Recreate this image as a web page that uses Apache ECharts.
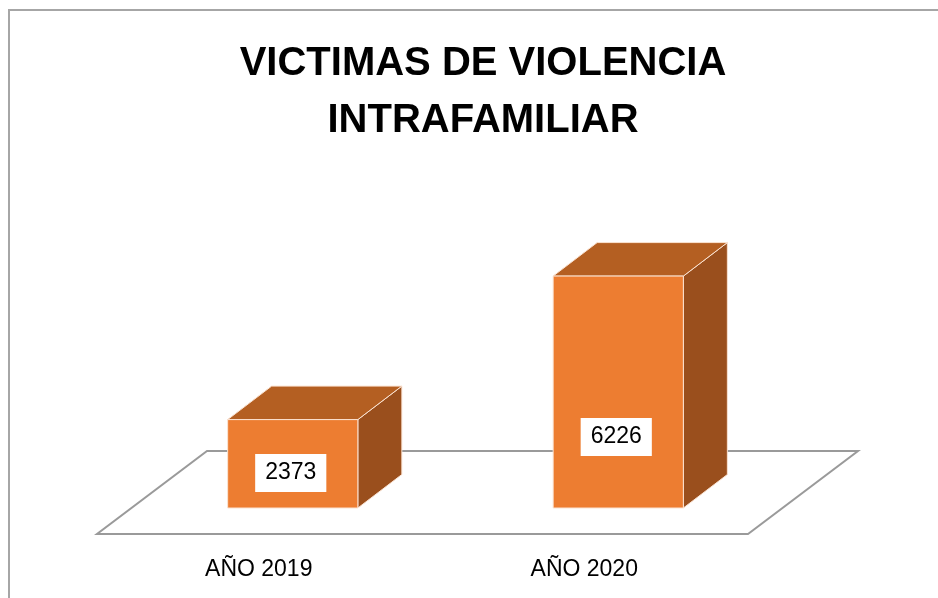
<!DOCTYPE html>
<html><head><meta charset="utf-8">
<script src="https://cdn.jsdelivr.net/npm/echarts@6/dist/echarts.min.js"></script>
<style>html,body{margin:0;padding:0;background:#fff}#c{width:938px;height:598px}</style>
</head><body><div id="c"></div>
<script>
const titleText = 'VICTIMAS DE VIOLENCIA\nINTRAFAMILIAR';
const categories = ['AÑO 2019', 'AÑO 2020'];
const victims = [2373, 6226];

const chart = echarts.init(document.getElementById('c'), null, {renderer: 'canvas'});
const FONT = '"Liberation Sans", Arial, sans-serif';
const DEPTH = [44, -33.5];
const FRONT_C = '#ED7D31', TOP_C = '#B45F22', SIDE_C = '#9A4F1D', EDGE_C = '#FBE3D2';

function renderFloor(params, api) {
  const cs = params.coordSys;
  const b = cs.y + cs.height;
  const pts = [[cs.x - 33, b + 26], [cs.x + cs.width - 33, b + 26], [cs.x + cs.width + 77, b - 57], [cs.x + 77, b - 57]];
  return {type: 'polygon', shape: {points: pts}, style: {fill: '#fff', stroke: '#9a9a9a', lineWidth: 2}, silent: true};
}
function renderBar(params, api) {
  const idx = api.value(0);
  const v = api.value(1);
  const base = api.coord([idx, 0]);
  const top = api.coord([idx, v]);
  const bw = api.size([1, 0])[0] * 0.4;
  const x0 = base[0] - bw / 2, x1 = base[0] + bw / 2, y0 = top[1], y1 = base[1];
  const dx = DEPTH[0], dy = DEPTH[1];
  const h = y1 - y0;
  return {type: 'group', children: [
    {type: 'polygon', shape: {points: [[x1, y0], [x1 + dx, y0 + dy], [x1 + dx, y1 + dy], [x1, y1]]}, style: {fill: SIDE_C, stroke: EDGE_C, lineWidth: 1}},
    {type: 'polygon', shape: {points: [[x0, y0], [x0 + dx, y0 + dy], [x1 + dx, y0 + dy], [x1, y0]]}, style: {fill: TOP_C, stroke: EDGE_C, lineWidth: 1}},
    {type: 'rect', shape: {x: x0, y: y0, width: bw, height: h}, style: {fill: FRONT_C, stroke: EDGE_C, lineWidth: 1}},
    {type: 'text', x: base[0] - 2, y: y1 - (h * 0.25 + 13), style: {text: String(v), fill: '#000', font: '23px ' + FONT, align: 'center', verticalAlign: 'middle', backgroundColor: '#fff', padding: [8, 10, 7, 10]}}
  ]};
}

chart.setOption({
  animation: false,
  backgroundColor: '#fff',
  title: {
    text: titleText, left: 478, top: 30, textAlign: 'center',
    textStyle: {fontSize: 40, fontWeight: 'bold', fontFamily: FONT, color: '#000', lineHeight: 57}
  },
  graphic: [{type: 'rect', z: -10, shape: {x: 9, y: 10, width: 1000, height: 700}, style: {fill: 'none', stroke: '#a6a6a6', lineWidth: 2}}],
  grid: {left: 130, width: 651, top: 210, bottom: 90},
  xAxis: {
    type: 'category', data: categories,
    axisLine: {show: false}, axisTick: {show: false}, splitLine: {show: false},
    axisLabel: {margin: 50, fontSize: 23, color: '#000', fontFamily: FONT, padding: [0, 68, 0, 0]}
  },
  yAxis: {type: 'value', min: 0, max: 8000, show: false, splitLine: {show: false}},
  series: [
    {type: 'custom', name: 'floor', renderItem: renderFloor, data: [[0, 0]], z: 1, silent: true},
    {type: 'custom', name: 'Victimas', renderItem: renderBar, encode: {x: 0, y: 1},
     data: victims.map((v, i) => [i, v]), z: 2}
  ]
});
</script></body></html>
